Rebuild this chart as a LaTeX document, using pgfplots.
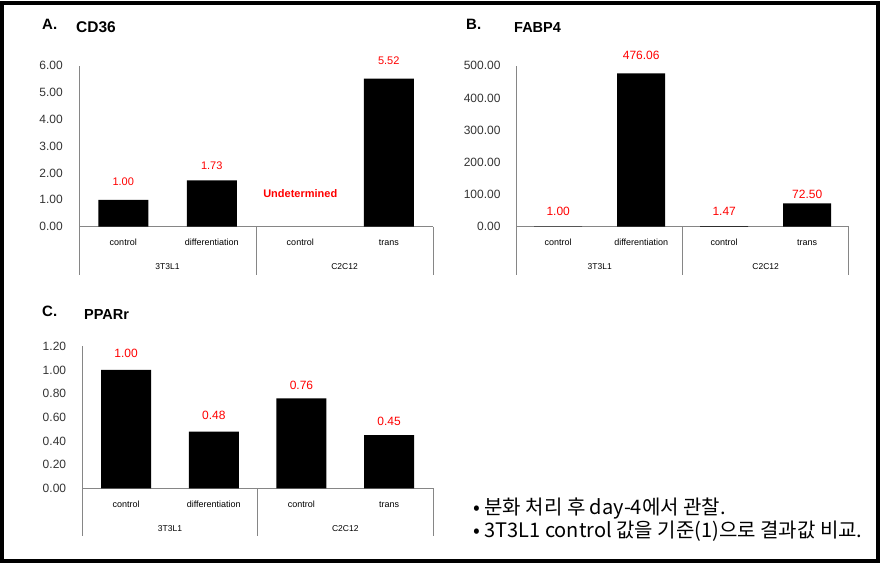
\documentclass[border=0pt]{standalone}
\usepackage{pgfplots}
\pgfplotsset{compat=1.18}
\usepackage{fontspec}
\setmainfont{Liberation Sans}
\newfontfamily\kr{Noto Sans CJK KR}
\definecolor{axgray}{HTML}{868686}
\definecolor{lblred}{HTML}{FF0000}
\pgfplotsset{
 panel/.style={
  scale only axis, ybar, ymin=0, xmin=-0.5, xmax=3.5,
  axis x line*=bottom, axis y line*=left,
  axis line style={draw=axgray, line width=0.8pt, -},
  xtick={0,1,2,3}, xticklabels={control,differentiation,control,trans},
  major tick length=0pt, minor tick length=0pt,
  x tick label style={font=\fontsize{9}{10}\selectfont, anchor=center, yshift=-16pt},
  y tick label style={font=\fontsize{12}{14}\selectfont, text=black!80, anchor=east, inner sep=0pt, xshift=-16pt},
  /pgf/number format/fixed, /pgf/number format/fixed zerofill, /pgf/number format/precision=2,
  /pgf/number format/assume math mode=true,
  clip=false,
  nodes near coords,
  visualization depends on={\thisrow{dy} \as \dy},
  every node near coord/.append style={text=lblred, inner sep=0pt, yshift=\dy pt},
 },
}
\newcommand\groupdecor{%
 \draw[axgray, line width=0.8pt] (axis cs:-0.5,0) -- ++(0pt,-48pt);
 \draw[axgray, line width=0.8pt] (axis cs:1.5,0) -- ++(0pt,-48pt);
 \draw[axgray, line width=0.8pt] (axis cs:3.5,0) -- ++(0pt,-48pt);
 \node[font=\fontsize{8.5}{10}\selectfont, yshift=-40pt] at (axis cs:0.5,0) {3T3L1};
 \node[font=\fontsize{8.5}{10}\selectfont, yshift=-40pt] at (axis cs:2.5,0) {C2C12};
}
\begin{document}
\begin{tikzpicture}
\path[use as bounding box] (0,0) rectangle (882pt,570pt);
\draw[line width=4pt] (2.2pt,566.7pt) rectangle (878pt,9pt);

% Panel A
\begin{axis}[panel, at={(79pt,343.3pt)}, anchor=south west, width=354pt, height=161pt,
  ymax=6, ytick={0,1,2,3,4,5,6}, bar width=50pt,
  every node near coord/.append style={font=\fontsize{11}{12}\selectfont}]
\addplot[fill=black, draw=none] table[x=x, y=y] {
x y dy
0 1.00 14
1 1.73 10
3 5.52 14
};
\groupdecor
\node[text=lblred, font=\bfseries\fontsize{11}{12}\selectfont, yshift=32.7pt] at (axis cs:2,0) {Undetermined};
\end{axis}

% Panel B
\begin{axis}[panel, at={(516.7pt,343.3pt)}, anchor=south west, width=332pt, height=161pt,
  ymax=500, ytick={0,100,200,300,400,500}, bar width=48pt,
  every node near coord/.append style={font=\fontsize{12}{13}\selectfont}]
\addplot[fill=black, draw=none] table[x=x, y=y] {
x y dy
0 1.00 10.7
1 476.06 13.7
2 1.47 10.7
3 72.50 5
};
\groupdecor
\end{axis}

% Panel C
\begin{axis}[panel, at={(82.3pt,81.7pt)}, anchor=south west, width=350.7pt, height=142pt,
  ymax=1.2, ytick={0,0.2,0.4,0.6,0.8,1,1.2}, bar width=50pt,
  every node near coord/.append style={font=\fontsize{12}{13}\selectfont}]
\addplot[fill=black, draw=none] table[x=x, y=y] {
x y dy
0 1.00 11.7
1 0.48 11.7
2 0.76 9
3 0.45 9
};
\groupdecor
\end{axis}

% Titles
\node[anchor=base west, inner sep=0pt, font=\bfseries\fontsize{15}{17}\selectfont] at (42pt,540pt) {A.};
\node[anchor=base west, inner sep=0pt, font=\bfseries\fontsize{15.5}{17}\selectfont] at (76pt,537.7pt) {CD36};
\node[anchor=base west, inner sep=0pt, font=\bfseries\fontsize{15}{17}\selectfont] at (466pt,540pt) {B.};
\node[anchor=base west, inner sep=0pt, font=\bfseries\fontsize{14.5}{17}\selectfont] at (514pt,537.7pt) {FABP4};
\node[anchor=base west, inner sep=0pt, font=\bfseries\fontsize{15}{17}\selectfont] at (42pt,253.3pt) {C.};
\node[anchor=base west, inner sep=0pt, font=\bfseries\fontsize{14.5}{17}\selectfont] at (84pt,250.7pt) {PPARr};

% Notes
\node[anchor=base west, inner sep=0pt, font=\kr\fontsize{20}{22}\selectfont] at (473pt,56pt) {• 분화 처리 후 day-4에서 관찰.};
\node[anchor=base west, inner sep=0pt, font=\kr\fontsize{20}{22}\selectfont] at (473pt,33pt) {• 3T3L1 control 값을 기준(1)으로 결과값 비교.};
\end{tikzpicture}
\end{document}
